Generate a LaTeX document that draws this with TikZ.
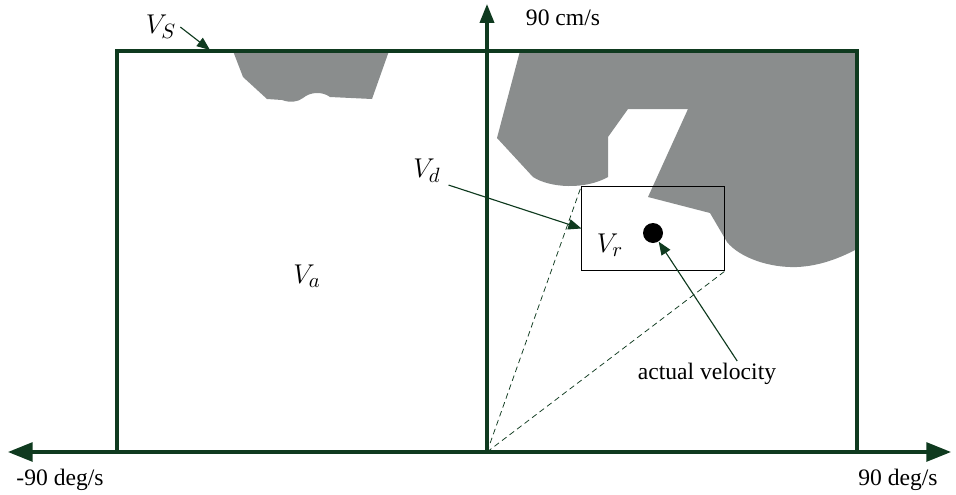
\documentclass[tikz,border=0pt]{standalone}
\usepackage{fontspec}
\setmainfont{Liberation Serif}
\usetikzlibrary{arrows.meta}
\definecolor{dkgreen}{HTML}{0F3A1F}
\definecolor{region}{HTML}{8A8D8D}
\tikzset{axis/.style={line width=1.6pt,draw=dkgreen},frame/.style={line width=1.6pt,draw=dkgreen},ptr/.style={draw=dkgreen,line width=0.6pt,-{Triangle[length=7pt,width=5.5pt]}},guide/.style={draw=dkgreen,line width=0.4pt,dash pattern=on 3pt off 2pt},lbl/.style={font=\fontsize{12.5}{15}\selectfont,inner sep=1pt},sym/.style={font=\fontsize{15.5}{18}\selectfont,inner sep=1pt},win/.style={draw=black,line width=0.5pt,minimum width=75.3pt,minimum height=45pt,inner sep=0pt}}

\begin{document}
\begin{tikzpicture}[x=0.53pt,y=-0.53pt]
\useasboundingbox (0,0) rectangle (956,495);
% obstacle regions
\fill[region] (233,51) -- (243,77) -- (267,99) -- (282,100) .. controls (290,103) and (298,102) .. (303,98) .. controls (310,92) and (322,91) .. (330,97) -- (372,99) -- (389,51) -- cycle;
\fill[region] (520,51) -- (857,51) -- (857,249) .. controls (840,258) and (820,266) .. (797,267) .. controls (770,268) and (740,258) .. (727,242) -- (710,213) -- (648,197) -- (688,109) -- (628,109) -- (608,137) -- (608,177) .. controls (585,190) and (550,188) .. (533,177) -- (497,138) -- cycle;
% axes and window
\coordinate (O) at (487,452);
\coordinate (L) at (8,452);
\coordinate (R) at (951,452);
\coordinate (T) at (487,4);
\draw[frame] (117,452) -- (117,51) -- (857,51) -- (857,452);
\draw[axis,{Triangle[length=13pt,width=10pt]}-{Triangle[length=13pt,width=10pt]}] (L) -- (R);
\draw[axis,-{Triangle[length=10pt,width=7.5pt]}] (O) -- (T);
\node[lbl] (vmax) at (563,18) {90 cm/s};
\node[lbl] (wmin) at (60,480) {-90 deg/s};
\node[lbl] (wmax) at (898,480) {90 deg/s};
% labels
\node[sym] (vs) at (161,27) {$V_S$};
\coordinate (vstip) at (210,50);
\draw[ptr] ([xshift=1pt]vs.east) -- (vstip);
\node[sym] (va) at (307,276) {$V_a$};
\node[win] (vrbox) at (653,228.5) {};
\draw[guide] (O) -- (vrbox.north west);
\draw[guide] (O) -- (vrbox.south east);
\node[sym] (vr) at (610,245) {$V_r$};
\node[circle,fill=black,minimum size=10.6pt,inner sep=0pt] (dot) at (653,233) {};
\node[sym] (vd) at (427,171) {$V_d$};
\draw[ptr] ([xshift=3pt]vd.south east) -- (vrbox.west);
\node[lbl] (act) at (707,374) {actual velocity};
\draw[ptr] ([xshift=16pt]act.north) -- (dot);
\end{tikzpicture}
\end{document}
